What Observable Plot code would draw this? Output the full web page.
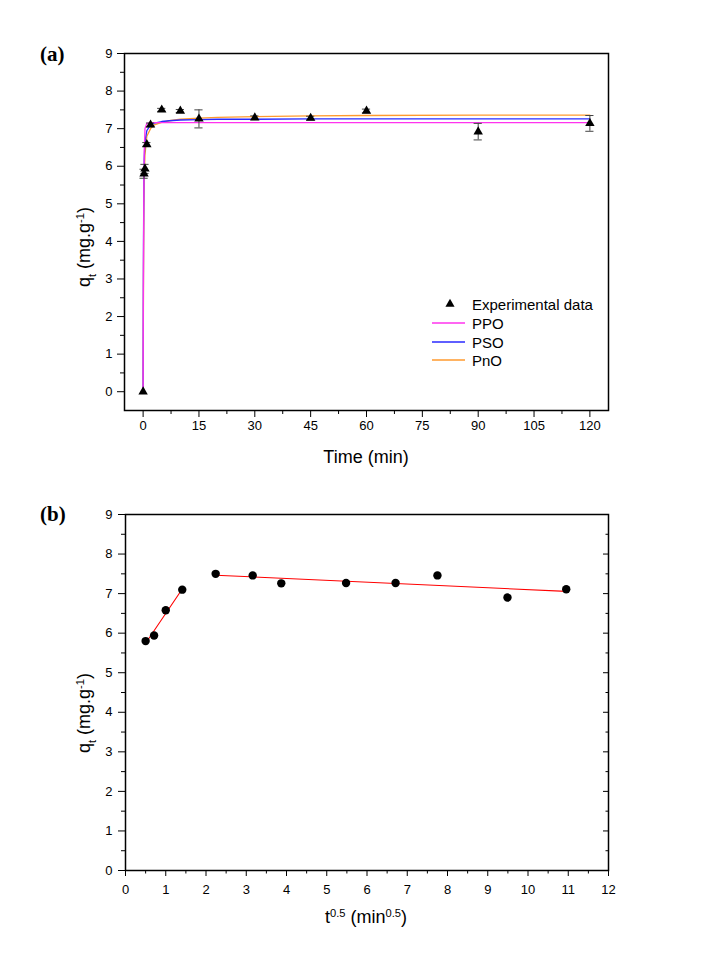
<!DOCTYPE html>
<html><head><meta charset="utf-8">
<script src="https://cdn.jsdelivr.net/npm/d3@7"></script>
<script src="https://cdn.jsdelivr.net/npm/@observablehq/plot@0.6"></script>
<style>
body{margin:0;background:#fff;}
#wrap{position:relative;width:706px;height:954px;background:#fff;}
#wrap svg{position:absolute;left:0;}
</style></head><body><div id="wrap"></div>
<script>
// ---- Panel (a): kinetic data ----
const time = [0, 0.25, 0.5, 1, 2, 5, 10, 15, 30, 45, 60, 90, 120];
const qt = [0, 5.80, 5.93, 6.58, 7.10, 7.50, 7.47, 7.26, 7.29, 7.28, 7.47, 6.92, 7.14];
const qtErr = [0, 0.12, 0.12, 0.05, 0.05, 0.04, 0.04, 0.24, 0.05, 0.05, 0.05, 0.22, 0.21];
const modelTime = [0, 0.05, 0.1, 0.2, 0.3, 0.5, 1, 2, 3, 5, 7, 10, 15, 20, 30, 45, 60, 90, 120];
const ppo = [0, 1.8, 3.4, 5.4, 6.4, 7.0, 7.14, 7.16, 7.16, 7.16, 7.16, 7.16, 7.16, 7.16, 7.16, 7.16, 7.16, 7.16, 7.16];
const pso = [0, 2.2, 3.9, 5.6, 6.2, 6.65, 6.95, 7.1, 7.15, 7.19, 7.21, 7.23, 7.24, 7.25, 7.25, 7.26, 7.26, 7.26, 7.26];
const pno = [0, 1.5, 3.0, 4.9, 5.7, 6.3, 6.8, 7.0, 7.1, 7.17, 7.21, 7.25, 7.28, 7.3, 7.32, 7.34, 7.35, 7.36, 7.36];
const xTicksA = [0, 15, 30, 45, 60, 75, 90, 105, 120];
const xMinorA = [7.5, 22.5, 37.5, 52.5, 67.5, 82.5, 97.5, 112.5];
const yTicks = [0, 1, 2, 3, 4, 5, 6, 7, 8, 9];
const yMinor = [0.5, 1.5, 2.5, 3.5, 4.5, 5.5, 6.5, 7.5, 8.5];
const seriesNames = ["Experimental data", "PPO", "PSO", "PnO"];
const seriesColors = ["#000000", "#ff33ee", "#2a2aff", "#ff9a2e"];

// ---- Panel (b): intraparticle diffusion ----
const sqrtTime = [0.5, 0.71, 1.0, 1.41, 2.24, 3.16, 3.87, 5.48, 6.71, 7.75, 9.49, 10.95];
const qtB = [5.80, 5.94, 6.58, 7.10, 7.50, 7.46, 7.26, 7.27, 7.27, 7.46, 6.90, 7.11];
const stageB = [1, 1, 1, 1, 2, 2, 2, 2, 2, 2, 2, 2];
const xTicksB = [0, 1, 2, 3, 4, 5, 6, 7, 8, 9, 10, 11, 12];
const xMinorB = [0.5, 1.5, 2.5, 3.5, 4.5, 5.5, 6.5, 7.5, 8.5, 9.5, 10.5, 11.5];

const FONT = "'Liberation Sans', Arial, sans-serif";
const wrap = document.getElementById("wrap");

const expData = time.map((t, i) => ({t, q: qt[i], e: qtErr[i]}));
const errData = expData.filter(d => d.e > 0);
const mk = arr => modelTime.map((t, i) => ({t, q: arr[i]}));

const plotA = Plot.plot({
  width: 706, height: 477,
  marginLeft: 124, marginRight: 98, marginTop: 53, marginBottom: 67,
  style: {fontFamily: FONT, fontSize: "13px", color: "#000", background: "transparent", overflow: "visible"},
  x: {domain: [-5, 125], label: null},
  y: {domain: [-0.5, 9], label: null},
  marks: [
    Plot.axisX(xTicksA, {tickSize: 7, tickPadding: 3, fontSize: 13, label: null}),
    Plot.axisX(xMinorA, {tickSize: 4, tickFormat: () => "", label: null}),
    Plot.axisY(yTicks, {tickSize: 7, tickPadding: 5, fontSize: 13, label: null}),
    Plot.axisY(yMinor, {tickSize: 4, tickFormat: () => "", label: null}),
    Plot.line(mk(pno), {x: "t", y: "q", stroke: seriesColors[3], strokeWidth: 1.3}),
    Plot.line(mk(pso), {x: "t", y: "q", stroke: seriesColors[2], strokeWidth: 1.3}),
    Plot.line(mk(ppo), {x: "t", y: "q", stroke: seriesColors[1], strokeWidth: 1.3}),
    Plot.ruleX(errData, {x: "t", y1: d => d.q - d.e, y2: d => d.q + d.e, stroke: "#444", strokeWidth: 1}),
    Plot.ruleY(errData, {y: d => d.q + d.e, x1: d => d.t - 1.1, x2: d => d.t + 1.1, stroke: "#444", strokeWidth: 1}),
    Plot.ruleY(errData, {y: d => d.q - d.e, x1: d => d.t - 1.1, x2: d => d.t + 1.1, stroke: "#444", strokeWidth: 1}),
    Plot.dot(expData, {x: "t", y: "q", symbol: "triangle", r: 3.5, fill: "#000", stroke: "none"}),
    Plot.frame({stroke: "#000", strokeWidth: 1.5})
  ]
});
plotA.style.top = "0px";
wrap.appendChild(plotA);

const bData = sqrtTime.map((x, i) => ({x, q: qtB[i], s: stageB[i]}));
const plotB = Plot.plot({
  width: 706, height: 477,
  marginLeft: 125, marginRight: 98, marginTop: 37, marginBottom: 84,
  style: {fontFamily: FONT, fontSize: "13px", color: "#000", background: "transparent", overflow: "visible"},
  x: {domain: [0, 12], label: null},
  y: {domain: [0, 9], label: null},
  marks: [
    Plot.axisX(xTicksB, {tickSize: 6, tickPadding: 8, fontSize: 13, label: null}),
    Plot.axisX(xMinorB, {tickSize: 3.5, tickFormat: () => "", label: null}),
    Plot.axisY(yTicks, {tickSize: 7, tickPadding: 6, fontSize: 13, label: null}),
    Plot.axisY(yMinor, {tickSize: 4, tickFormat: () => "", label: null}),
    Plot.axisY(yTicks, {anchor: "right", tickSize: 6, dx: -6, tickFormat: () => "", label: null}),
    Plot.axisY(yMinor, {anchor: "right", tickSize: 3.5, dx: -3.5, tickFormat: () => "", label: null}),
    Plot.linearRegressionY(bData.filter(d => d.s === 1), {x: "x", y: "q", stroke: "#ff0000", strokeWidth: 1.1, ci: 0}),
    Plot.linearRegressionY(bData.filter(d => d.s === 2), {x: "x", y: "q", stroke: "#ff0000", strokeWidth: 1.1, ci: 0}),
    Plot.dot(bData, {x: "x", y: "q", r: 4.2, fill: "#000", stroke: "none"}),
    Plot.frame({stroke: "#000", strokeWidth: 1.5})
  ]
});
plotB.style.top = "477px";
wrap.appendChild(plotB);

// ---- Labels, panel tags and legend ----
function addText(svg, x, y, parts, opts = {}) {
  const t = d3.select(svg).append("text")
    .attr("x", x).attr("y", y)
    .attr("font-family", opts.family || FONT)
    .attr("font-size", opts.size || 18)
    .attr("font-weight", opts.weight || "normal")
    .attr("text-anchor", opts.anchor || "start")
    .attr("fill", "#000");
  if (opts.rotate) t.attr("transform", `rotate(-90 ${x} ${y})`);
  parts.forEach(p => {
    const s = t.append("tspan").text(p.t);
    if (p.sup) s.attr("baseline-shift", "super").attr("font-size", "0.62em");
    if (p.sub) s.attr("baseline-shift", "sub").attr("font-size", "0.62em");
  });
  return t;
}
const yLabelParts = [{t: "q"}, {t: "t", sub: true}, {t: " (mg.g"}, {t: "-1", sup: true}, {t: ")"}];

addText(plotA, 40, 61, [{t: "(a)"}], {family: "'Liberation Serif', 'Times New Roman', serif", size: 21, weight: "bold"});
addText(plotA, 366, 463, [{t: "Time (min)"}], {anchor: "middle", size: 18});
addText(plotA, 90, 247, yLabelParts, {anchor: "middle", size: 18, rotate: true});

addText(plotB, 40, 44, [{t: "(b)"}], {family: "'Liberation Serif', 'Times New Roman', serif", size: 21, weight: "bold"});
addText(plotB, 366, 446, [{t: "t"}, {t: "0.5", sup: true}, {t: " (min"}, {t: "0.5", sup: true}, {t: ")"}], {anchor: "middle", size: 18});
addText(plotB, 90, 236, yLabelParts, {anchor: "middle", size: 18, rotate: true});

// legend
const lg = d3.select(plotA).append("g").attr("text-anchor", "start");
const lgY = [304, 323, 342, 360];
seriesNames.forEach((name, i) => {
  if (i === 0) {
    lg.append("path").attr("d", d3.symbol(d3.symbolTriangle, Math.PI * 3.4 * 3.4)())
      .attr("transform", `translate(450,${lgY[i]})`).attr("fill", "#000");
  } else {
    lg.append("line").attr("x1", 432).attr("x2", 465).attr("y1", lgY[i]).attr("y2", lgY[i])
      .attr("stroke", seriesColors[i]).attr("stroke-width", 1.3);
  }
  lg.append("text").attr("x", 472).attr("y", lgY[i] + 5.5).attr("text-anchor", "start")
    .attr("font-family", FONT).attr("font-size", 15).attr("fill", "#000").text(name);
});
</script>
</body></html>
